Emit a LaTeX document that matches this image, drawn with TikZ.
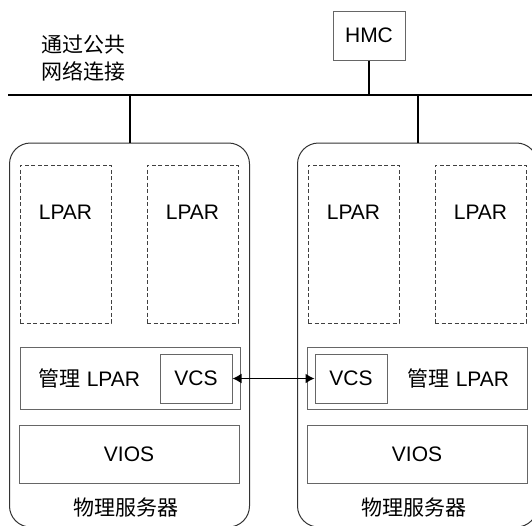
\documentclass[tikz,border=0pt]{standalone}
\usepackage{fontspec}
\setmainfont{Liberation Sans}
\newfontfamily\cjk{Noto Sans CJK SC}
\usetikzlibrary{positioning,arrows.meta}

\tikzset{
  box/.style={draw=black!60, line width=1pt, inner sep=0pt},
  lpar/.style={box, draw=black!75, dash pattern=on 4pt off 2.5pt, minimum width=91pt, minimum height=158pt},
  server/.style={draw=black!80, line width=1pt, rounded corners=21pt, minimum width=240pt, minimum height=384pt},
  wire/.style={line width=2pt},
}

\begin{document}
\begin{tikzpicture}[x=1pt,y=-1pt,font=\fontsize{21}{25}\selectfont]
\useasboundingbox (0,0) rectangle (532,525);
\clip (0,0) rectangle (532,525);
% network
\node[box, minimum width=72pt, minimum height=49pt] (hmc) at (369,35.5) {HMC};
\coordinate (busL) at (8,95);
\coordinate (busR) at (532,95);
\draw[wire] (busL) -- (busR);
\draw[wire] (hmc.south) -- (hmc.south |- busL);
\node[align=left, inner sep=0pt, anchor=west, font=\cjk\fontsize{21}{27}\selectfont] (net) at (41,58.5) {通过公共\\网络连接};
% servers
\foreach \s/\x in {A/0,B/288}{
  \node[server] (srv\s) at (129.5+\x,335) {};
  \draw[wire] (srv\s.north) -- (srv\s.north |- busL);
  \node[lpar] (lp\s1) at (65.5+\x,244) {};
  \node[lpar] (lp\s2) at (192.5+\x,244) {};
  \node at ([yshift=32pt]lp\s1.center) {LPAR};
  \node at ([yshift=32pt]lp\s2.center) {LPAR};
  \node[box, minimum width=220pt, minimum height=58pt] (vios\s) at (129+\x,454.5) {VIOS};
  \node[font=\cjk\fontsize{21}{25}\selectfont] (lbl\s) at (126+\x,508) {物理服务器};
}
% management lpars
\node[box, minimum width=220pt, minimum height=62pt] (mgA) at (130,378) {};
\node[box, minimum width=72pt, minimum height=49pt] (vcsA) at (196,378.5) {VCS};
\node (mtA) at (89.5,378) {{\cjk 管理} LPAR};
\node[box, minimum width=220pt, minimum height=62pt] (mgB) at (417.5,378) {};
\node[box, minimum width=72pt, minimum height=49pt] (vcsB) at (351,378.5) {VCS};
\node (mtB) at (458.5,378) {{\cjk 管理} LPAR};
\draw[line width=1.5pt, {Latex[length=9pt,width=10pt]}-{Latex[length=9pt,width=10pt]}] (vcsA.east) -- (vcsB.west);
\end{tikzpicture}
\end{document}
